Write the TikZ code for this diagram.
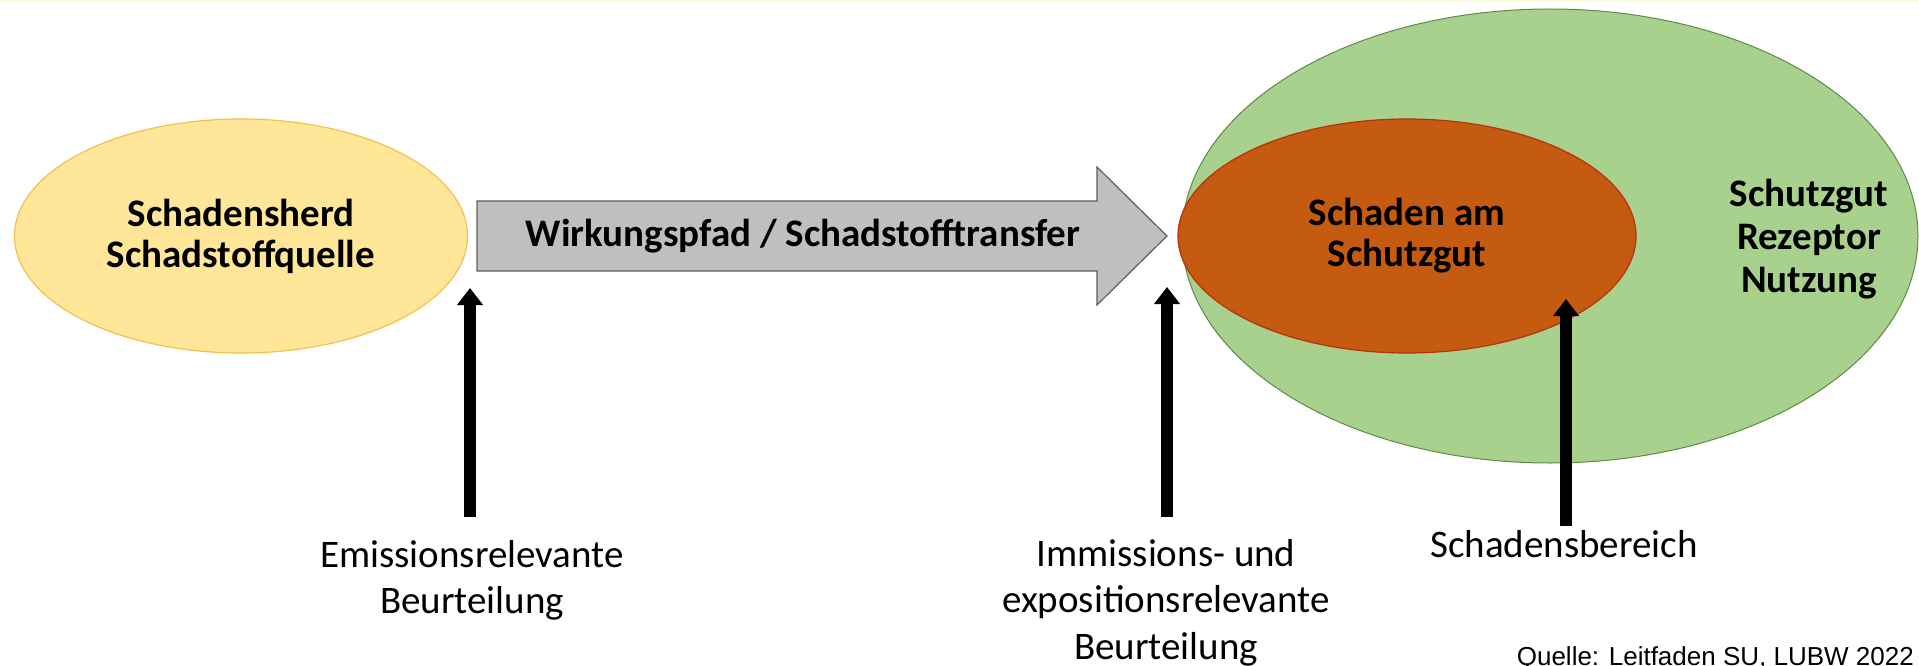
\documentclass[tikz,border=0pt]{standalone}
\usepackage{fontspec}
\setmainfont{Carlito}
\newfontfamily\quellefont{Liberation Sans}
\usepackage{tikz}
\usetikzlibrary{shapes.geometric,arrows.meta}
\definecolor{herdfill}{HTML}{FFE699}
\definecolor{herddraw}{HTML}{F2C14E}
\definecolor{pfadfill}{HTML}{BFBFBF}
\definecolor{pfaddraw}{HTML}{5E5E5E}
\definecolor{gutfill}{HTML}{A9D18E}
\definecolor{gutdraw}{HTML}{5F8A46}
\definecolor{schadenfill}{HTML}{C55A11}
\definecolor{schadendraw}{HTML}{B8300C}
\tikzset{
    areanode/.style = {
        ellipse,
        align=center,
        inner sep=0pt,
        outer sep=0pt,
        line width=1.2pt,
        font=\fontsize{39}{41}\selectfont\bfseries
    },
    boldtext/.style = {
        align=center,
        inner sep=0pt,
        font=\fontsize{39}{43}\selectfont\bfseries
    },
    labelnode/.style = {
        align=center,
        inner sep=0pt,
        anchor=north,
        font=\fontsize{39}{46.5}\selectfont
    },
    uparrow/.style = {
        -{Triangle[length=17pt,width=25pt]},
        line width=12pt
    }
}

\begin{document}
\begin{tikzpicture}[x=1pt,y=-1pt]
    \useasboundingbox (0,0) rectangle (1919,666);
    \fill [yellow!12] (0,0) rectangle (1919,2);

    % Quelle links
    \node [areanode, fill=herdfill, draw=herddraw,
           minimum width=453pt, minimum height=234pt] (herd) at (241,236)
          {Schadensherd\\Schadstoffquelle};

    % Pfad
    \draw [fill=pfadfill, draw=pfaddraw, line width=1.2pt]
        (477,201) -- (1097,201) -- (1097,167) -- (1167,236)
        -- (1097,305) -- (1097,271) -- (477,271) -- cycle;
    \node [boldtext] (pfad) at (803,236) {Wirkungspfad / Schadstofftransfer};

    % Schutzgut rechts
    \node [areanode, fill=gutfill, draw=gutdraw, line width=1pt,
           minimum width=736pt, minimum height=454pt] (gut) at (1550,236) {};
    \node [areanode, fill=schadenfill, draw=schadendraw,
           minimum width=458pt, minimum height=234pt] (schaden) at (1407,236)
          {Schaden am\\Schutzgut};
    \node [boldtext, text depth=0pt] (gutlabel) at (1809,236) {Schutzgut\\Rezeptor\\Nutzung};

    % Beurteilung
    \coordinate (emitip) at (470,288);
    \coordinate (emifoot) at (470,517);
    \coordinate (immtip) at (1167,287);
    \coordinate (immfoot) at (1167,517);
    \coordinate (bertip) at (1566,299);
    \coordinate (berfoot) at (1566,526);
    \draw [uparrow] (emifoot) -- (emitip);
    \draw [uparrow] (immfoot) -- (immtip);
    \draw [uparrow] (berfoot) -- (bertip);

    \node [labelnode] (emission) at (472,540) {Emissionsrelevante\\Beurteilung};
    \node [labelnode] (immission) at (1166,539) {Immissions- und\\expositionsrelevante\\Beurteilung};
    \node [labelnode] (bereich) at (1564,530) {Schadensbereich};

    \node [anchor=base east, inner sep=0pt, font=\quellefont\fontsize{26}{30}\selectfont]
        (quelle) at (1914,665) {Quelle: Leitfaden SU, LUBW 2022};
\end{tikzpicture}
\end{document}
